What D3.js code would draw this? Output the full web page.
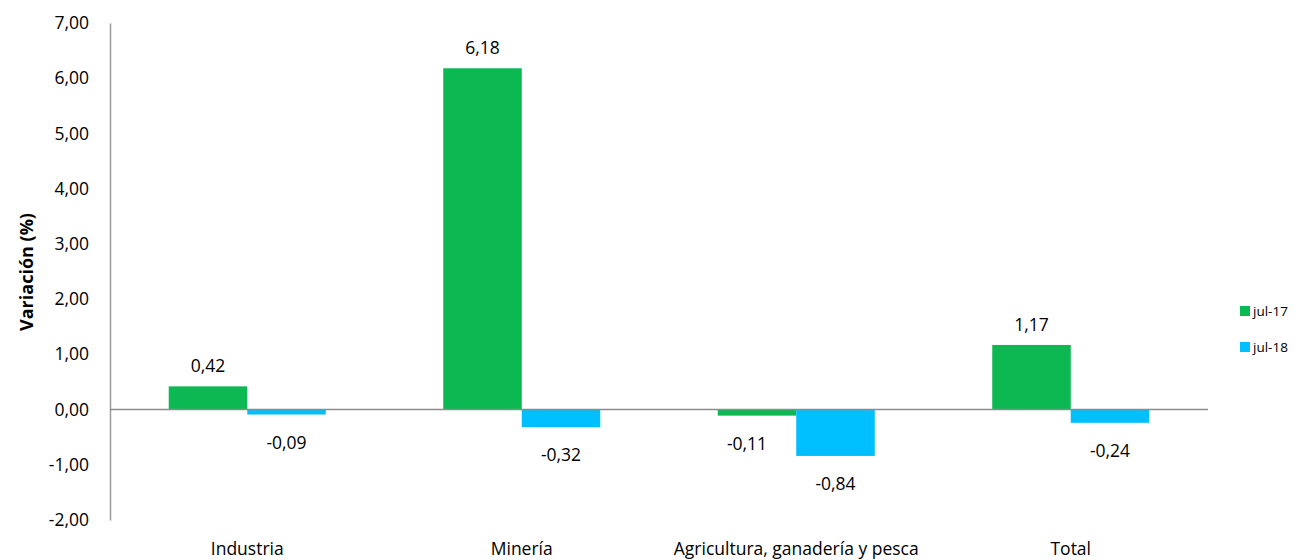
<!DOCTYPE html>
<html>
<head>
<meta charset="utf-8">
<script src="https://cdn.jsdelivr.net/npm/d3@7"></script>
<style>
  body { margin: 0; background: #fff; }
  text { font-family: "Open Sans", "Noto Sans", sans-serif; fill: #000; }
</style>
</head>
<body>
<div id="chart"></div>
<script>
// data
const categories = ['Industria', 'Minería', 'Agricultura, ganadería y pesca', 'Total'];
const seriesNames = ['jul-17', 'jul-18'];
const jul17 = [0.42, 6.18, -0.11, 1.17];
const jul18 = [-0.09, -0.32, -0.84, -0.24];
const yTicks = [-2, -1, 0, 1, 2, 3, 4, 5, 6, 7];

const colors = ['#0bb851', '#00bfff'];
const w = 1299, h = 560;
const plotLeft = 110, plotRight = 1208, plotTop = 23, plotBottom = 520;
const fontFam = '"Open Sans", "Noto Sans", sans-serif';

const svg = d3.select('#chart').append('svg').attr('width', w).attr('height', h);

const yScale = d3.scaleLinear().domain([-2, 7]).range([plotBottom, plotTop]);
const x0 = d3.scaleBand().domain(categories).range([plotLeft, plotRight]).paddingInner(0.428).paddingOuter(0.214);
const x1 = d3.scaleBand().domain(seriesNames).range([0, x0.bandwidth()]);

const esLocale = d3.formatLocale({ decimal: ',', thousands: '.', grouping: [3], currency: ['', ''], minus: '-' });
const fmt = esLocale.format('.2f');

// y axis, no ticks
const yAxis = d3.axisLeft(yScale).tickValues(yTicks).tickSize(0).tickPadding(21).tickFormat(fmt);
const ya = svg.append('g').attr('transform', `translate(${plotLeft},0)`).call(yAxis);
ya.select('.domain').attr('stroke', '#9a9a9a').attr('stroke-width', 1.5);
ya.selectAll('text').style('font-size', '17.5px').style('font-family', fontFam);

// bars
const rows = categories.map((c, i) => ({ cat: c, vals: [jul17[i], jul18[i]] }));
const groups = svg.selectAll('.grp').data(rows).enter().append('g')
  .attr('transform', d => `translate(${x0(d.cat)},0)`);

groups.selectAll('rect').data(d => d.vals.map((v, j) => ({ v, s: seriesNames[j], j })))
  .enter().append('rect')
  .attr('x', d => x1(d.s))
  .attr('width', x1.bandwidth())
  .attr('y', d => yScale(Math.max(0, d.v)))
  .attr('height', d => Math.abs(yScale(d.v) - yScale(0)))
  .attr('fill', d => colors[d.j]);

groups.selectAll('.lbl').data(d => d.vals.map((v, j) => ({ v, s: seriesNames[j], j })))
  .enter().append('text')
  .attr('x', d => x1(d.s) + x1.bandwidth() / 2 + (d.v < 0 && d.j === 0 ? -10 : 0))
  .attr('y', d => d.v >= 0 ? yScale(d.v) - 14 : yScale(d.v) + 34)
  .attr('text-anchor', 'middle')
  .style('font-size', '17.5px')
  .text(d => fmt(d.v));

// zero line
svg.append('line')
  .attr('x1', plotLeft).attr('x2', plotRight)
  .attr('y1', yScale(0)).attr('y2', yScale(0))
  .attr('stroke', '#8c8c8c').attr('stroke-width', 1.5);

// category labels
svg.selectAll('.cat').data(categories).enter().append('text')
  .attr('x', d => x0(d) + x0.bandwidth() / 2)
  .attr('y', 555)
  .attr('text-anchor', 'middle')
  .style('font-size', '17.5px')
  .text(d => d);

// y title
svg.append('text')
  .attr('transform', 'translate(33,272) rotate(-90)')
  .attr('text-anchor', 'middle')
  .style('font-size', '18px')
  .style('font-weight', 'bold')
  .text('Variación (%)');

// legend
const legend = svg.append('g').selectAll('g').data(seriesNames).enter().append('g')
  .attr('transform', (d, i) => `translate(1240,${311 + i * 36})`);
legend.append('rect').attr('x', 0).attr('y', -5).attr('width', 10).attr('height', 10)
  .attr('fill', (d, i) => colors[i]);
legend.append('text').attr('x', 13).attr('y', 5).style('font-size', '13.5px').text(d => d);
</script>
</body>
</html>
